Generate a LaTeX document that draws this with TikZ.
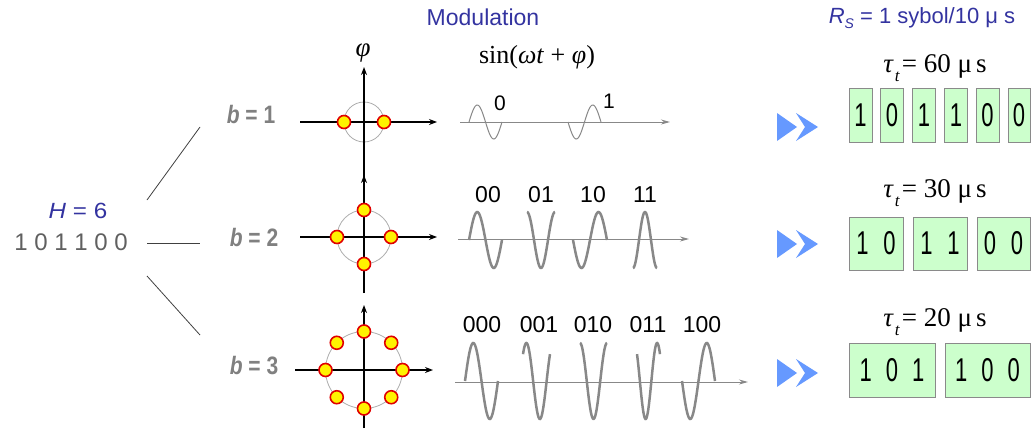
\documentclass[tikz,border=0pt]{standalone}
\usepackage{fontspec}
\setmainfont{Liberation Sans}
\newfontfamily\tms{Liberation Serif}
\usetikzlibrary{arrows.meta,calc}
\definecolor{ttl}{HTML}{3333A0}
\definecolor{lbl}{HTML}{808080}
\definecolor{src}{HTML}{606060}
\definecolor{wavec}{HTML}{888888}
\definecolor{ffblue}{HTML}{6699FF}
\definecolor{boxg}{HTML}{CCFFCC}
\definecolor{boxe}{HTML}{8A8A8A}
\definecolor{dotr}{HTML}{E00000}
\newcommand\fsz[1]{\fontsize{#1}{#1}\selectfont}
\newcommand\wv[6]{\draw[#1] plot[domain=#2:#3, samples=50, smooth] (\x,{#4-#5*sin(#6+360*(\x-#2)/(#3-#2))});}
\newcommand\bitt[1]{\scalebox{1}[1.5]{\fsz{22}#1}}
\newcommand\taul[1]{{\tms\fsz{27}\textit{τ}\hspace{1pt}\raisebox{-9pt}{\fsz{17}\textit{t}}\hspace{2pt}= #1 μ\hspace{4pt}s}}
\begin{document}
\begin{tikzpicture}[x=1pt,y=-1pt,
  axis/.style={black, line width=1.3pt, -{Stealth[length=8pt,width=6pt]}},
  ring/.style={draw=gray!65, line width=0.8pt},
  dot/.style={circle, fill=yellow, draw=dotr, line width=1.6pt, minimum size=13pt, inner sep=0pt},
  waxis/.style={draw=wavec, line width=1pt, -{Stealth[length=9pt,width=5pt]}},
  thinwave/.style={draw=wavec, line width=1pt},
  thickwave/.style={draw=wavec, line width=2.5pt},
  bitbox/.style={draw=boxe, fill=boxg, line width=1pt, inner sep=0pt, minimum height=54pt},
  blab/.style={text=lbl, font=\bfseries\fsz{21}},
  wlab/.style={font=\fsz{23}},
  conn/.style={draw=black!75, line width=0.8pt},
  ff/.pic={\fill[ffblue] (0,-14)--(20,0)--(0,14)--cycle;
           \fill[ffblue] (19,-14)--(41,0)--(19,14)--(28,0)--cycle;}
]
\useasboundingbox (0,0) rectangle (1031,431);

% titles
\node (mod) at (483,17) {\color{ttl}\fsz{23}Modulation};
\node (rs) at (922,18) {\color{ttl}\fsz{22}\textit{R}\raisebox{-5pt}{\fsz{14}\textit{S}} = 1 sybol/10 μ s};

% source
\node (h) at (78,211) {\color{ttl}\scalebox{1.1}[1]{\fsz{22}\textit{H} = 6}};
\node (srcbits) at (71,242) {\color{src}\fsz{24}1 0 1 1 0 0};
\coordinate (s1) at (147,200); \coordinate (e1) at (200,127);
\coordinate (s2) at (147,243); \coordinate (e2) at (200,243);
\coordinate (s3) at (147,276); \coordinate (e3) at (200,335);
\draw[conn] (s1) -- (e1);
\draw[conn] (s2) -- (e2);
\draw[conn] (s3) -- (e3);

% b labels
\node[blab] (b1) at (251,114) {\scalebox{1}[1.2]{\textit{b} = 1}};
\node[blab] (b2) at (254,237) {\scalebox{1}[1.2]{\textit{b} = 2}};
\node[blab] (b3) at (254,366) {\scalebox{1}[1.2]{\textit{b} = 3}};

% constellation 1
\node (phi) at (363,53) {\tms\fsz{27}\textit{φ}};
\coordinate (o1) at (364,122);
\draw[ring] (o1) circle (20);
\draw[axis] (300,122) -- (437,122);
\draw[axis] (364,180) -- (364,67);
\node[dot] (d11) at (344,122) {};
\node[dot] (d12) at (384,122) {};

% constellation 2
\coordinate (o2) at (364,237);
\draw[ring] (o2) circle (27);
\draw[axis] (300,237) -- (437,237);
\draw[axis] (364,293) -- (364,175);
\node[dot] (d21) at (337,237) {};
\node[dot] (d22) at (391,237) {};
\node[dot] (d23) at (364,210) {};
\node[dot] (d24) at (364,264) {};

% constellation 3
\coordinate (o3) at (364,370);
\draw[ring] (o3) circle (38.5);
\draw[axis] (295,370) -- (433,370);
\draw[axis] (364,428) -- (364,305);
\foreach \a [count=\i] in {0,45,...,315}
  \node[dot] (d3\i) at ($(o3)+(\a:38.5)$) {};

% sin label
\node (sinl) at (537,57) {\tms\fsz{26}sin(\textit{ωt} + \textit{φ})};

% waves row 1
\draw[waxis] (460,122) -- (670,122);
\wv{thinwave}{469}{502}{122}{17}{0}
\wv{thinwave}{568}{601}{122}{17}{180}
\node[font=\fsz{21}] (w10) at (500,103) {0};
\node[font=\fsz{21}] (w11) at (609,101) {1};

% waves row 2
\draw[waxis] (458,239) -- (689,239);
\wv{thickwave}{469}{502}{240}{28}{0}
\wv{thickwave}{527}{555}{240}{28}{90}
\wv{thickwave}{573}{607}{240}{28}{180}
\wv{thickwave}{633}{657}{240}{28}{270}
\node[wlab] (w200) at (488,195) {00};
\node[wlab] (w201) at (541,195) {01};
\node[wlab] (w210) at (593,195) {10};
\node[wlab] (w211) at (645,195) {11};

% waves row 3
\draw[waxis] (455,382) -- (748,382);
\wv{thickwave}{465}{498}{381}{38}{0}
\wv{thickwave}{523}{550}{381}{38}{45}
\wv{thickwave}{580}{607}{381}{38}{90}
\wv{thickwave}{637}{660}{381}{38}{135}
\wv{thickwave}{682}{715}{381}{38}{180}
\node[wlab] (w3a) at (482,325) {000};
\node[wlab] (w3b) at (539,325) {001};
\node[wlab] (w3c) at (593,325) {010};
\node[wlab] (w3d) at (648,325) {011};
\node[wlab] (w3e) at (702,325) {100};

% fast-forward arrows
\pic at (777,127) {ff};
\pic at (777,244) {ff};
\pic at (777,373) {ff};

% row 1 boxes
\node (t1) at (935,68) {\taul{60}};
\node[bitbox, minimum width=23pt] (r1a) at (860.5,115) {\bitt{1}};
\node[bitbox, minimum width=23pt] (r1b) at (892,115) {\bitt{0}};
\node[bitbox, minimum width=23pt] (r1c) at (924,115) {\bitt{1}};
\node[bitbox, minimum width=23pt] (r1d) at (956,115) {\bitt{1}};
\node[bitbox, minimum width=23pt] (r1e) at (987.5,115) {\bitt{0}};
\node[bitbox, minimum width=22pt] (r1f) at (1019,115) {\bitt{0}};

% row 2 boxes
\node (t2) at (935,193) {\taul{30}};
\node[bitbox, minimum width=54pt, minimum height=53pt] (r2a) at (876,243.5) {\bitt{1\hspace{15pt}0}};
\node[bitbox, minimum width=54pt, minimum height=53pt] (r2b) at (940,243.5) {\bitt{1\hspace{15pt}1}};
\node[bitbox, minimum width=53pt, minimum height=53pt] (r2c) at (1003.5,243.5) {\bitt{0\hspace{15pt}0}};

% row 3 boxes
\node (t3) at (935,322) {\taul{20}};
\node[bitbox, minimum width=86pt] (r3a) at (892,370) {\bitt{1\hspace{14pt}0\hspace{14pt}1}};
\node[bitbox, minimum width=85pt] (r3b) at (987.5,370) {\bitt{1\hspace{14pt}0\hspace{14pt}0}};
\end{tikzpicture}
\end{document}
